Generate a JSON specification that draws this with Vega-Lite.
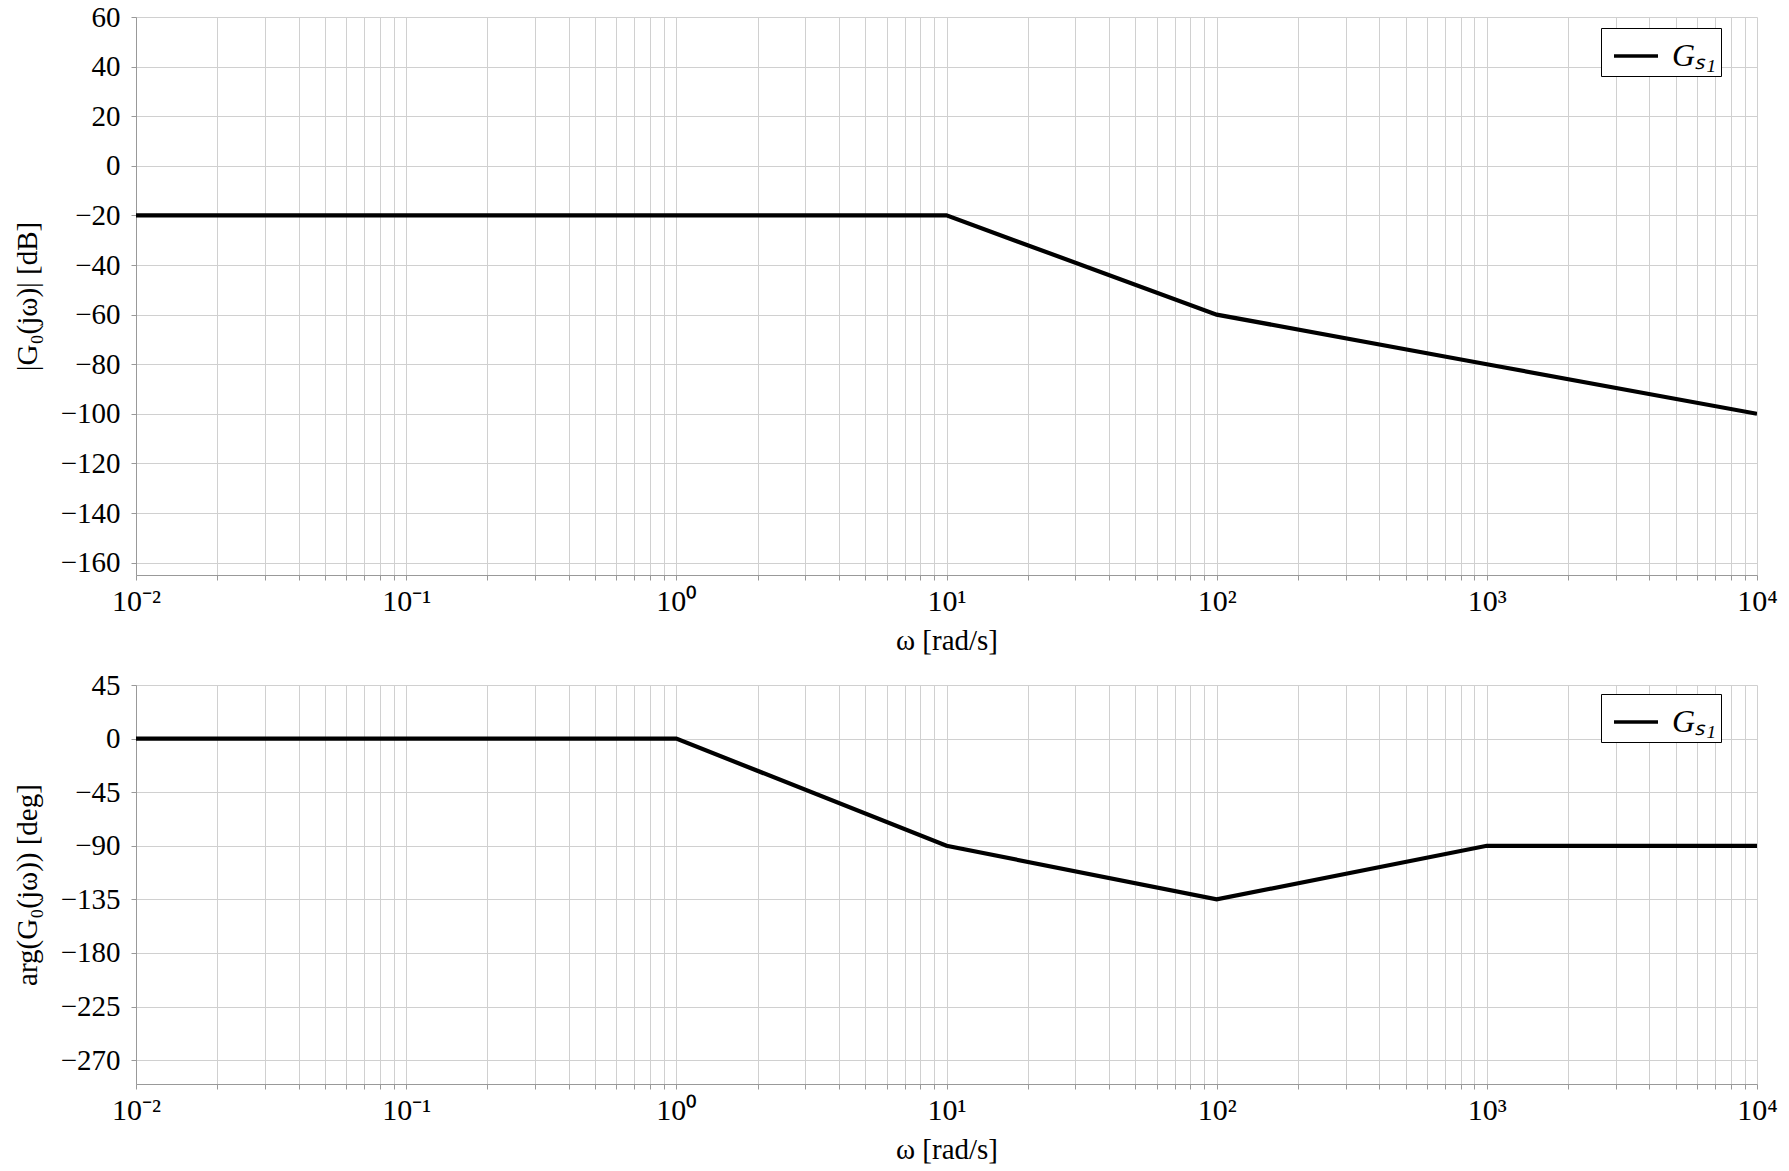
{
  "$schema": "https://vega.github.io/schema/vega-lite/v6.json",
  "padding": {"left": 13, "top": 3, "right": 10, "bottom": 5},
  "background": "white",
  "spacing": 110,
  "bounds": "flush",
  "resolve": {"scale": {"color": "independent"}, "legend": {"color": "independent"}},
  "config": {
    "view": {"stroke": null},
    "font": "Liberation Serif",
    "axis": {
      "labelFont": "Liberation Serif",
      "titleFont": "Liberation Serif",
      "labelFontSize": 29,
      "titleFontSize": 29,
      "titleFontWeight": "normal",
      "labelColor": "black",
      "titleColor": "black",
      "gridColor": "#d0d0d0",
      "gridWidth": 1,
      "domainColor": "#999999",
      "tickColor": "#999999",
      "tickSize": 5,
      "labelFlush": false,
      "labelOverlap": false
    },
    "legend": {
      "labelFont": "Liberation Serif",
      "labelFontSize": 32,
      "labelFontStyle": "italic",
      "labelColor": "black"
    }
  },
  "vconcat": [
    {
      "width": 1621,
      "height": 558,
      "data": {"values": [
        {"w": 0.01, "v": -20, "s": "Gₛ₁"},
        {"w": 10, "v": -20, "s": "Gₛ₁"},
        {"w": 100, "v": -60, "s": "Gₛ₁"},
        {"w": 1000, "v": -80, "s": "Gₛ₁"},
        {"w": 10000, "v": -100, "s": "Gₛ₁"}
      ]},
      "mark": {"type": "line", "strokeWidth": 4.2, "clip": true},
      "encoding": {
        "x": {
          "field": "w", "type": "quantitative",
          "scale": {"type": "log", "domain": [0.01, 10000], "nice": false},
          "axis": {
            "title": "ω [rad/s]",
            "titlePadding": 10,
            "labelPadding": 6,
            "labelFontSize": 30,
            "values": [0.01,0.02,0.03,0.04,0.05,0.06,0.07,0.08,0.09,0.1,0.2,0.3,0.4,0.5,0.6,0.7,0.8,0.9,1,2,3,4,5,6,7,8,9,10,20,30,40,50,60,70,80,90,100,200,300,400,500,600,700,800,900,1000,2000,3000,4000,5000,6000,7000,8000,9000,10000],
            "labelExpr": "abs(log(datum.value)/LN10 - round(log(datum.value)/LN10)) < 0.001 ? ['10⁻²','10⁻¹','10⁰','10¹','10²','10³','10⁴'][round(log(datum.value)/LN10)+2] : ''"
          }
        },
        "y": {
          "field": "v", "type": "quantitative",
          "scale": {"domain": [-165, 60], "nice": false, "zero": false},
          "axis": {
            "title": "|G₀(jω)| [dB]",
            "titlePadding": 18,
            "labelPadding": 11,
            "values": [60, 40, 20, 0, -20, -40, -60, -80, -100, -120, -140, -160]
          }
        },
        "color": {
          "field": "s", "type": "nominal",
          "scale": {"range": ["black"]},
          "legend": {
            "title": null,
            "orient": "none",
            "legendX": 1465,
            "legendY": 11,
            "symbolType": "stroke",
            "symbolSize": 1936,
            "symbolStrokeWidth": 3.5,
            "symbolOffset": 7,
            "strokeColor": "black",
            "fillColor": "white",
            "padding": 4,
            "labelOffset": 12
          }
        }
      }
    },
    {
      "width": 1621,
      "height": 399,
      "data": {"values": [
        {"w": 0.01, "v": 0, "s": "Gₛ₁"},
        {"w": 1, "v": 0, "s": "Gₛ₁"},
        {"w": 10, "v": -90, "s": "Gₛ₁"},
        {"w": 100, "v": -135, "s": "Gₛ₁"},
        {"w": 1000, "v": -90, "s": "Gₛ₁"},
        {"w": 10000, "v": -90, "s": "Gₛ₁"}
      ]},
      "mark": {"type": "line", "strokeWidth": 4.2, "clip": true},
      "encoding": {
        "x": {
          "field": "w", "type": "quantitative",
          "scale": {"type": "log", "domain": [0.01, 10000], "nice": false},
          "axis": {
            "title": "ω [rad/s]",
            "titlePadding": 10,
            "labelPadding": 6,
            "labelFontSize": 30,
            "values": [0.01,0.02,0.03,0.04,0.05,0.06,0.07,0.08,0.09,0.1,0.2,0.3,0.4,0.5,0.6,0.7,0.8,0.9,1,2,3,4,5,6,7,8,9,10,20,30,40,50,60,70,80,90,100,200,300,400,500,600,700,800,900,1000,2000,3000,4000,5000,6000,7000,8000,9000,10000],
            "labelExpr": "abs(log(datum.value)/LN10 - round(log(datum.value)/LN10)) < 0.001 ? ['10⁻²','10⁻¹','10⁰','10¹','10²','10³','10⁴'][round(log(datum.value)/LN10)+2] : ''"
          }
        },
        "y": {
          "field": "v", "type": "quantitative",
          "scale": {"domain": [-290, 45], "nice": false, "zero": false},
          "axis": {
            "title": "arg(G₀(jω)) [deg]",
            "titlePadding": 18,
            "labelPadding": 11,
            "values": [45, 0, -45, -90, -135, -180, -225, -270]
          }
        },
        "color": {
          "field": "s", "type": "nominal",
          "scale": {"range": ["black"]},
          "legend": {
            "title": null,
            "orient": "none",
            "legendX": 1465,
            "legendY": 9,
            "symbolType": "stroke",
            "symbolSize": 1936,
            "symbolStrokeWidth": 3.5,
            "symbolOffset": 7,
            "strokeColor": "black",
            "fillColor": "white",
            "padding": 4,
            "labelOffset": 12
          }
        }
      }
    }
  ]
}
